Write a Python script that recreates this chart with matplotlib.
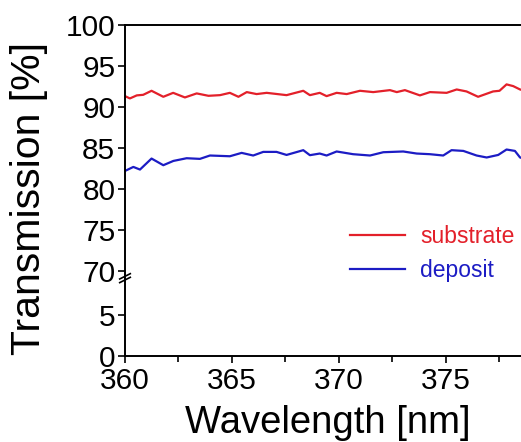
import numpy as np
import matplotlib
matplotlib.use("Agg")
import matplotlib.pyplot as plt

plt.rcParams['font.family'] = ['Liberation Sans', 'DejaVu Sans']

# ---- data ----
substrate_wl = [360.0, 360.23, 360.55, 360.85, 361.24, 361.79, 362.25, 362.8, 363.35, 363.9,
                364.44, 364.9, 365.3, 365.69, 366.15, 366.62, 367.55, 368.33, 368.64, 369.1,
                369.42, 369.89, 370.36, 370.98, 371.6, 372.38, 372.7, 373.08, 373.78, 374.25,
                375.03, 375.5, 375.96, 376.5, 377.2, 377.5, 377.83, 378.14, 378.46, 378.8]
substrate_T = [91.34, 91.06, 91.43, 91.5, 91.99, 91.26, 91.74, 91.18, 91.67, 91.38,
               91.46, 91.74, 91.26, 91.83, 91.59, 91.74, 91.46, 91.99, 91.46, 91.74,
               91.34, 91.74, 91.59, 91.99, 91.83, 92.07, 91.83, 92.07, 91.43, 91.83,
               91.74, 92.15, 91.91, 91.26, 91.91, 91.99, 92.77, 92.56, 92.15, 91.9]
deposit_wl = [360.0, 360.39, 360.7, 361.24, 361.79, 362.26, 362.88, 363.5, 363.97, 364.9,
              365.45, 365.99, 366.46, 367.08, 367.55, 368.33, 368.64, 369.1, 369.42, 369.89,
              370.66, 371.45, 372.07, 373.0, 373.63, 374.25, 374.87, 375.26, 375.81, 376.43,
              376.9, 377.44, 377.83, 378.22, 378.46, 378.8]
deposit_T = [82.23, 82.72, 82.4, 83.74, 82.93, 83.45, 83.78, 83.7, 84.11, 84.02,
             84.43, 84.11, 84.55, 84.55, 84.18, 84.76, 84.15, 84.35, 84.11, 84.6,
             84.27, 84.11, 84.51, 84.6, 84.35, 84.27, 84.11, 84.76, 84.67, 84.11,
             83.87, 84.18, 84.84, 84.67, 83.87, 83.6]
series_labels = ['substrate', 'deposit']
y_ticks = [0, 5, 70, 75, 80, 85, 90, 95, 100]
x_ticks = [360, 365, 370, 375]

# ---- broken y scale ----
BRK = 10.3   # top of the lower segment
UP = 70.0    # bottom of the upper segment

def fwd(y):
    y = np.asarray(y, dtype=float)
    return np.where(y >= UP, y - UP + BRK, np.minimum(y, BRK))

def inv(v):
    v = np.asarray(v, dtype=float)
    return np.where(v > BRK, v + UP - BRK, v)

W, H = 521, 442
fig = plt.figure(figsize=(W / 100, H / 100), dpi=100)
left, right, top, bottom = 125, 531.6, 25, 356
ax = fig.add_axes([left / W, 1 - bottom / H, (right - left) / W, (bottom - top) / H])
ax.set_yscale('function', functions=(fwd, inv))

red = '#e3202a'
blue = '#1c1cc4'
ax.plot(substrate_wl, substrate_T, color=red, lw=1.6, label=series_labels[0])
ax.plot(deposit_wl, deposit_T, color=blue, lw=1.6, label=series_labels[1])

ax.set_xlim(360, 379)
ax.set_ylim(0, 100)
ax.set_xticks(x_ticks)
ax.set_xticks([362.5, 367.5, 372.5, 377.5], minor=True)
ax.set_yticks(y_ticks)
ax.set_yticklabels([str(t) for t in y_ticks])
ax.yaxis.set_minor_locator(matplotlib.ticker.NullLocator())

for s in ax.spines.values():
    s.set_linewidth(1.4)
ax.spines['right'].set_visible(False)
ax.tick_params(axis='both', which='major', direction='out', length=5, width=1.2,
               labelsize=21.5, pad=2)
ax.tick_params(axis='x', which='minor', direction='out', length=4, width=1.2)
ax.tick_params(axis='x', which='major', pad=3)

ax.set_xlabel('Wavelength [nm]', fontsize=27.5)
ax.set_ylabel('Transmission [%]', fontsize=29.5)
ax.xaxis.set_label_coords(0.5, -0.148)
ax.yaxis.set_label_coords(-0.19, 0.477)

# break marks on left spine
ybrk = (fwd(UP) - 0.6) / (fwd(100))
for dy in (0.0, -0.011):
    ax.plot([-0.013, 0.013], [ybrk + dy - 0.008, ybrk + dy + 0.008],
            transform=ax.transAxes, color='black', lw=1.2, clip_on=False)

fig.legend(loc='upper left', bbox_to_anchor=(350 / W, 1 - 225 / H), frameon=False,
           fontsize=16.5, handlelength=2.4, handletextpad=0.65, labelspacing=0.5,
           borderpad=0, borderaxespad=0, labelcolor='linecolor')

fig.savefig('out.png', dpi=100)
